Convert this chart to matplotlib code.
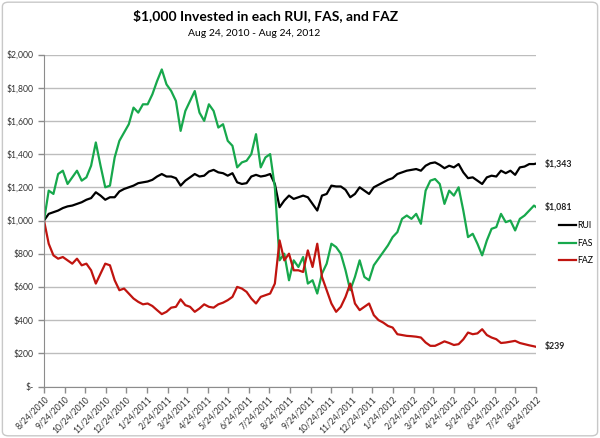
import matplotlib.pyplot as plt
import matplotlib.ticker as mticker
import pandas as pd
from matplotlib.patches import FancyBboxPatch

plt.rcParams['font.family'] = ['Lato', 'DejaVu Sans']

# Weekly samples (every Tuesday starting 8/24/2010); the last value is 8/24/2012
rui = [1000, 1040, 1050, 1060, 1075, 1085, 1090, 1100, 1110, 1125,
       1135, 1170, 1150, 1125, 1140, 1140, 1175, 1190, 1200, 1210,
       1225, 1230, 1235, 1245, 1265, 1280, 1265, 1265, 1255, 1210,
       1240, 1260, 1280, 1265, 1270, 1295, 1305, 1290, 1285, 1270,
       1285, 1230, 1220, 1225, 1265, 1275, 1265, 1270, 1280, 1220,
       1080, 1120, 1150, 1130, 1140, 1150, 1140, 1100, 1060, 1150,
       1160, 1210, 1205, 1205, 1185, 1140, 1160, 1200, 1180, 1160,
       1200, 1215, 1230, 1245, 1255, 1280, 1290, 1300, 1305, 1310,
       1300, 1330, 1345, 1350, 1335, 1315, 1330, 1320, 1340, 1290,
       1255, 1260, 1240, 1220, 1260, 1270, 1265, 1300, 1285, 1300,
       1275, 1320, 1325, 1340, 1340, 1343]

fas = [1000, 1180, 1160, 1280, 1300, 1220, 1260, 1300, 1240, 1260,
       1330, 1470, 1330, 1200, 1210, 1380, 1480, 1530, 1580, 1680,
       1650, 1700, 1700, 1760, 1840, 1910, 1820, 1780, 1720, 1540,
       1660, 1720, 1780, 1650, 1600, 1700, 1660, 1560, 1580, 1480,
       1450, 1320, 1350, 1360, 1400, 1520, 1320, 1380, 1400, 1200,
       760, 800, 640, 760, 720, 780, 620, 640, 560, 680,
       740, 860, 840, 800, 700, 580, 660, 760, 660, 640,
       730, 770, 810, 850, 900, 930, 1010, 1030, 1010, 1040,
       980, 1180, 1240, 1250, 1220, 1100, 1180, 1150, 1200, 1060,
       900, 920, 860, 790, 880, 950, 960, 1040, 990, 1000,
       940, 1010, 1030, 1060, 1090, 1081]

faz = [1000, 860, 790, 770, 780, 760, 740, 770, 730, 740,
       700, 620, 680, 740, 730, 640, 580, 590, 560, 530,
       510, 495, 500, 485, 460, 436, 450, 475, 480, 525,
       490, 480, 450, 470, 495, 480, 475, 495, 505, 520,
       540, 600, 590, 570, 530, 500, 540, 550, 560, 620,
       880, 760, 800, 700, 700, 690, 820, 720, 860, 660,
       580, 500, 450, 480, 540, 620, 500, 460, 480, 500,
       430, 400, 385, 365, 355, 315, 310, 305, 303, 300,
       295, 265, 245, 245, 258, 272, 262, 250, 255, 284,
       325, 315, 320, 345, 310, 295, 285, 262, 265, 270,
       275, 262, 255, 248, 242, 239]

dates = list(pd.date_range('2010-08-24', periods=105, freq='7D')) + [pd.Timestamp('2012-08-24')]
month_ticks = pd.date_range('2010-08-24', '2012-08-24', freq=pd.DateOffset(months=1))

series = [('RUI', rui, '#000000'), ('FAS', fas, '#17a84c'), ('FAZ', faz, '#c0140f')]

fig = plt.figure(figsize=(6, 4.38), dpi=100)
ax = fig.add_axes([44 / 600, 1 - 386.5 / 438, 492 / 600, 332 / 438])

for name, vals, col in series:
    ax.plot(dates, vals, color=col, lw=1.6, label=name)
    ax.annotate(f"${vals[-1]:,}", xy=(dates[-1], vals[-1]), xytext=(6.5, 0),
                textcoords='offset points', va='center', ha='left',
                fontsize=6.3, fontweight='bold', color='#222222')

ax.set_xlim(dates[0], dates[-1])
ax.set_ylim(0, 2000)
ax.set_yticks(range(0, 2001, 200))
ax.yaxis.set_major_formatter(mticker.FuncFormatter(
    lambda v, p: '$-' if v == 0 else f"${int(v):,}"))
ax.set_xticks(month_ticks)
ax.set_xticklabels([f"{d.month}/{d.day}/{d.year}" for d in month_ticks],
                   rotation=45, ha='right', rotation_mode='anchor')

ax.grid(axis='y', color='#bdbdbd', lw=1)
ax.set_axisbelow(True)
for s in ['top', 'right']:
    ax.spines[s].set_visible(False)
for s in ['left', 'bottom']:
    ax.spines[s].set_color('#8c8c8c')
ax.tick_params(labelsize=6.2, colors='#8c8c8c', labelcolor='#333333', length=4, width=1)
ax.tick_params(axis='x', pad=2)

# Title and subtitle
fig.text(266 / 600, 1 - 16 / 438, "$1,000 Invested in each RUI, FAS, and FAZ",
         ha='center', va='center', fontsize=10, fontweight='bold')
fig.text(254 / 600, 1 - 33 / 438, "Aug 24, 2010 - Aug 24, 2012",
         ha='center', va='center', fontsize=7.5)

ax.legend(loc='upper left', bbox_to_anchor=(555 / 600, 1 - 217 / 438),
          bbox_transform=fig.transFigure, frameon=False, fontsize=6.3,
          handlelength=1.9, handletextpad=0.1, labelspacing=0.95, borderpad=0)

fig.patches.append(FancyBboxPatch((0.004, 0.005), 0.992, 0.99,
                                  boxstyle='round,pad=0,rounding_size=0.01',
                                  transform=fig.transFigure, fill=False,
                                  ec='#c8c8c8', lw=1))

plt.savefig('out.png', dpi=100)
